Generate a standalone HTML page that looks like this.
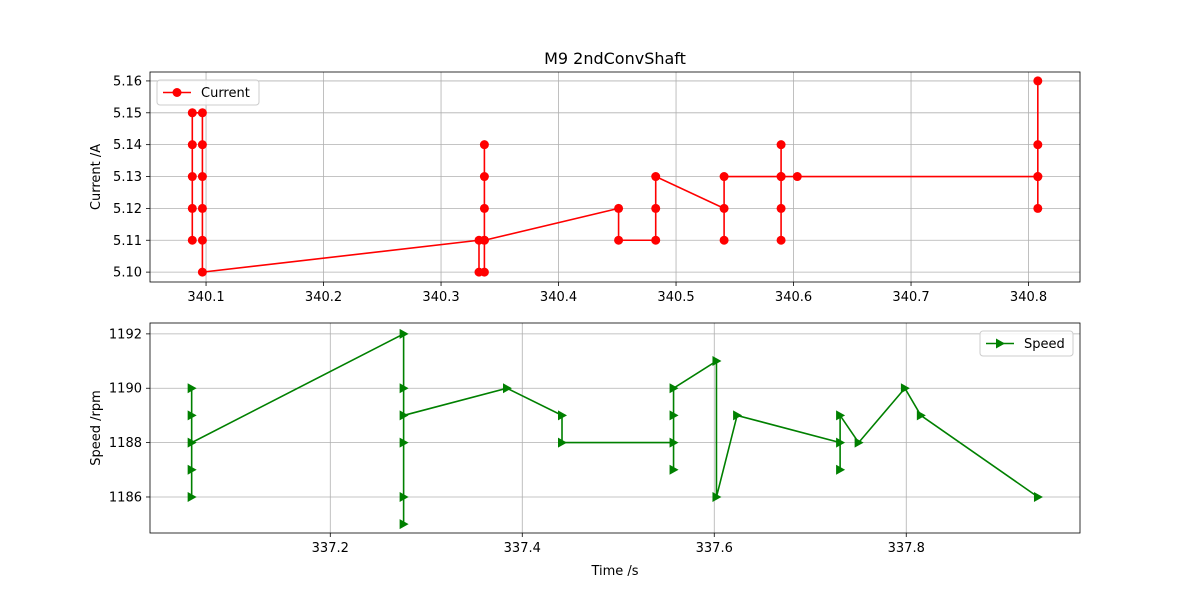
<!DOCTYPE html>
<html><head><meta charset="utf-8"><style>
body{margin:0;background:#fff;font-family:"Liberation Sans","DejaVu Sans",sans-serif;}
svg text{font-family:"DejaVu Sans","Liberation Sans",sans-serif;fill:#000;}
</style></head><body>
<svg id="chart" width="1200" height="600" xmlns="http://www.w3.org/2000/svg"></svg>
<script>
const curX=[340.0883,340.0883,340.0883,340.0883,340.0883,340.0969,340.0969,340.0969,340.0969,340.0969,340.0969,340.3323,340.3323,340.3369,340.3369,340.3369,340.3369,340.3369,340.3369,340.4511,340.4511,340.4827,340.4827,340.4827,340.5409,340.5409,340.5409,340.5894,340.5894,340.5894,340.5894,340.5894,340.6032,340.8079,340.8079,340.8079,340.8079,340.8079];
const curY=[5.11,5.12,5.13,5.14,5.15,5.15,5.14,5.13,5.12,5.11,5.10,5.11,5.10,5.10,5.11,5.12,5.13,5.14,5.11,5.12,5.11,5.11,5.12,5.13,5.12,5.11,5.13,5.13,5.14,5.11,5.12,5.13,5.13,5.13,5.16,5.12,5.14,5.13];
const spdX=[337.0556,337.0556,337.0556,337.0556,337.0556,337.2764,337.2764,337.2764,337.2764,337.2764,337.2764,337.3841,337.4414,337.4414,337.5576,337.5576,337.5576,337.5576,337.6023,337.6023,337.6238,337.7311,337.7311,337.7311,337.7504,337.7986,337.8152,337.9372];
const spdY=[1190,1189,1187,1186,1188,1192,1190,1186,1185,1188,1189,1190,1189,1188,1188,1189,1187,1190,1191,1186,1189,1188,1187,1189,1188,1190,1189,1186];
const topXTicks=[340.1,340.2,340.3,340.4,340.5,340.6,340.7,340.8];
const topYTicks=[5.10,5.11,5.12,5.13,5.14,5.15,5.16];
const botXTicks=[337.2,337.4,337.6,337.8];
const botYTicks=[1186,1188,1190,1192];

const NS="http://www.w3.org/2000/svg";
const svg=document.getElementById('chart');
function el(t,a,p){const e=document.createElementNS(NS,t);for(const k in a)e.setAttribute(k,a[k]);(p||svg).appendChild(e);return e;}
function lin(d0,d1,r0,r1){return v=>r0+(v-d0)*(r1-r0)/(d1-d0);}

function panel(o){
  const g=el('g',{});
  
  
  const sx=lin(o.xd[0],o.xd[1],150,1080), sy=lin(o.yd[0],o.yd[1],o.y1,o.y0);
  o.xt.forEach(t=>{const x=sx(t);
    const l=el('line',{x1:x,x2:x,y1:o.y0,y2:o.y1,stroke:'#b0b0b0','stroke-width':0.8},g);
    
    el('line',{x1:x,x2:x,y1:o.y1,y2:o.y1+4,stroke:'#000','stroke-width':0.8},g);
    const tx=el('text',{x:x,y:o.y1+19,'text-anchor':'middle','font-size':13},g);tx.textContent=t.toFixed(1);
    });
  o.yt.forEach(t=>{const y=sy(t);
    const l=el('line',{x1:150,x2:1080,y1:y,y2:y,stroke:'#b0b0b0','stroke-width':0.8},g);
    
    el('line',{x1:146,x2:150,y1:y,y2:y,stroke:'#000','stroke-width':0.8},g);
    const tx=el('text',{x:142,y:y+4.5,'text-anchor':'end','font-size':13},g);tx.textContent=t.toFixed(o.yfix);
    });
  const pts=o.X.map((v,i)=>sx(v)+','+sy(o.Y[i])).join(' ');
  const pl=el('polyline',{points:pts,fill:'none',stroke:o.color,'stroke-width':1.6},g);
  
  o.X.forEach((v,i)=>{const x=sx(v),y=sy(o.Y[i]);let m;
    if(o.marker==='o')m=el('circle',{cx:x,cy:y,r:4.5,fill:o.color},g);
    else m=el('polygon',{points:`${x+5},${y} ${x-4},${y-5} ${x-4},${y+5}`,fill:o.color},g);
    });
  el('rect',{x:150,y:o.y0,width:930,height:o.y1-o.y0,fill:'none',stroke:'#000','stroke-width':0.8},g);
  const yl=el('text',{x:0,y:0,'text-anchor':'middle','font-size':13,transform:`translate(100,${(o.y0+o.y1)/2}) rotate(-90)`},g);
  yl.textContent=o.ylabel;
  const lg=el('g',{},g);
  el('rect',{x:o.lx,y:o.y0+8,width:o.lw,height:25,rx:3,fill:'#fff','fill-opacity':0.8,stroke:'#ccc'},lg);
  el('line',{x1:o.lx+6,x2:o.lx+34,y1:o.y0+20.5,y2:o.y0+20.5,stroke:o.color,'stroke-width':1.6},lg);
  const cx=o.lx+20,cy=o.y0+20.5;
  if(o.marker==='o')el('circle',{cx:cx,cy:cy,r:4.5,fill:o.color},lg);
  else el('polygon',{points:`${cx+5},${cy} ${cx-4},${cy-5} ${cx-4},${cy+5}`,fill:o.color},lg);
  const lt=el('text',{x:o.lx+44,y:o.y0+25,'font-size':13},lg);lt.textContent=o.series==='current'?'Current':'Speed';
  
}
const title=el('text',{x:615,y:64,'text-anchor':'middle','font-size':16});
title.textContent='M9 2ndConvShaft';


panel({name:'current-panel',series:'current',xd:[340.0523,340.8438],yd:[5.0969,5.1628],y0:72,y1:282,xt:topXTicks,yt:topYTicks,yfix:2,X:curX,Y:curY,color:'#ff0000',marker:'o',ylabel:'Current /A',lx:157,lw:102});
panel({name:'speed-panel',series:'speed',xd:[337.0122,337.981],yd:[1184.675,1192.40],y0:323,y1:533,xt:botXTicks,yt:botYTicks,yfix:0,X:spdX,Y:spdY,color:'#008000',marker:'>',ylabel:'Speed /rpm',lx:980,lw:93});
const xl=el('text',{x:615,y:575,'text-anchor':'middle','font-size':13});
xl.textContent='Time /s';


</script>
</body></html>
